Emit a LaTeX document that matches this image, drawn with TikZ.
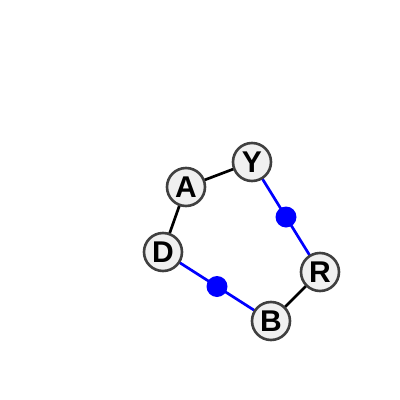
\documentclass[tikz,border=0pt]{standalone}
\usepackage{fontspec}
\setmainfont{Liberation Sans}
\usetikzlibrary{calc}
\begin{document}
\begin{tikzpicture}[x=1pt,y=-1pt,
  res/.style={circle,draw=black!75,line width=2.6pt,fill=black!6,minimum size=38pt,inner sep=0pt,font=\fontsize{30}{30}\selectfont\bfseries},
  bond/.style={line width=2.7pt,black},
  hbond/.style={line width=2.7pt,blue},
  hdot/.style={circle,fill=blue,inner sep=0pt,minimum size=21pt}]
\useasboundingbox (0,0) rectangle (400,400);
\coordinate (a) at (186,187);
\coordinate (y) at (252,162);
\coordinate (d) at (163,252);
\coordinate (r) at (320,272);
\coordinate (b) at (271,321);
\draw[bond] (a) -- (y);
\draw[bond] (a) -- (d);
\draw[bond] (r) -- (b);
\draw[hbond] (y) -- (r);
\draw[hbond] (d) -- (b);
\node[hdot] (m1) at ($(y)!0.5!(r)$) {};
\node[hdot] (m2) at ($(d)!0.5!(b)$) {};
\node[res] (A) at (a) {A};
\node[res] (Y) at (y) {Y};
\node[res] (D) at (d) {D};
\node[res] (R) at (r) {R};
\node[res] (B) at (b) {B};
\end{tikzpicture}
\end{document}
